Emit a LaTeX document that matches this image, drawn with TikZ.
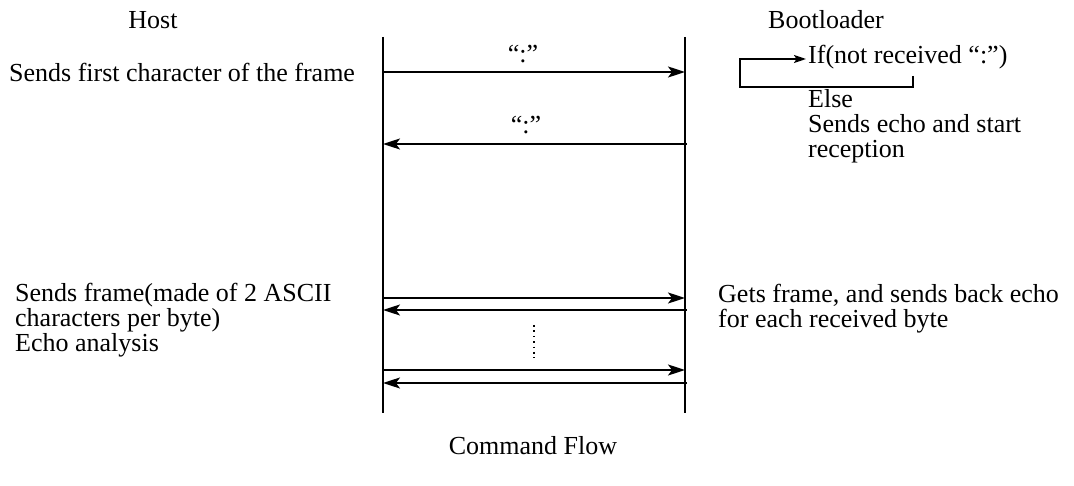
\documentclass[tikz,border=0pt]{standalone}
\usepackage{fontspec}
\setmainfont{Liberation Serif}
\usetikzlibrary{arrows.meta}
\begin{document}
\begin{tikzpicture}[x=1pt,y=-1pt,
  txt/.style={inner sep=0pt,font=\fontsize{26}{25}\selectfont,align=left},
  life/.style={line width=1.8pt},
  msg/.style={line width=1.8pt,-{Stealth[length=17pt,width=11pt,inset=4pt]}},
  loop/.style={line width=1.8pt,-{Stealth[length=12pt,width=8pt,inset=2.5pt]}}]
\useasboundingbox (0,0) rectangle (1074,486);
% lifelines
\coordinate (hT) at (383,37);
\coordinate (hB) at (383,413);
\coordinate (bT) at (685,37);
\coordinate (bB) at (685,413);
\draw[life] (hT) -- (hB);
\draw[life] (bT) -- (bB);
% headers
\node[txt] (host) at (153,20) {Host};
\node[txt,anchor=west] (boot) at (768,20) {Bootloader};
% first exchange
\node[txt,anchor=west] (sendfirst) at (9,72) {Sends first character of the frame};
\coordinate (h1) at (383,72);
\coordinate (b1) at (685,72);
\draw[msg] (h1) -- (b1);
\node[txt] (c1) at (523,54) {“:”};
\coordinate (b2) at (687,144);
\coordinate (h2) at (383,144);
\draw[msg] (b2) -- (h2);
\node[txt] (c2) at (526,125) {“:”};
% loop
\node[txt,anchor=west] (ifnot) at (808,57) {If(not received “:”)};
\coordinate (l1) at (913,76);
\coordinate (l2) at (913,87);
\coordinate (l3) at (740,87);
\coordinate (l4) at (740,59);
\coordinate (l5) at (806,59);
\draw[loop] (l1) -- (l2) -- (l3) -- (l4) -- (l5);
\node[txt,anchor=west] (else) at (808,126) {Else\\Sends echo and start\\reception};
% frame exchange
\node[txt,anchor=west] (sendframe) at (15,320) {Sends frame(made of 2 ASCII\\characters per byte)\\Echo analysis};
\node[txt,anchor=west] (gets) at (718,309) {Gets frame, and sends back echo\\for each received byte};
\coordinate (h3) at (383,298);
\coordinate (b3) at (685,298);
\draw[msg] (h3) -- (b3);
\coordinate (b4) at (687,310);
\coordinate (h4) at (383,310);
\draw[msg] (b4) -- (h4);
\coordinate (d1) at (534,325);
\coordinate (d2) at (534,358);
\draw[line width=1.6pt,dash pattern=on 1.6pt off 3.8pt] (d1) -- (d2);
\coordinate (h5) at (383,370);
\coordinate (b5) at (685,370);
\draw[msg] (h5) -- (b5);
\coordinate (b6) at (687,383);
\coordinate (h6) at (383,383);
\draw[msg] (b6) -- (h6);
% caption
\node[txt] (caption) at (533,446) {Command Flow};
\end{tikzpicture}
\end{document}
